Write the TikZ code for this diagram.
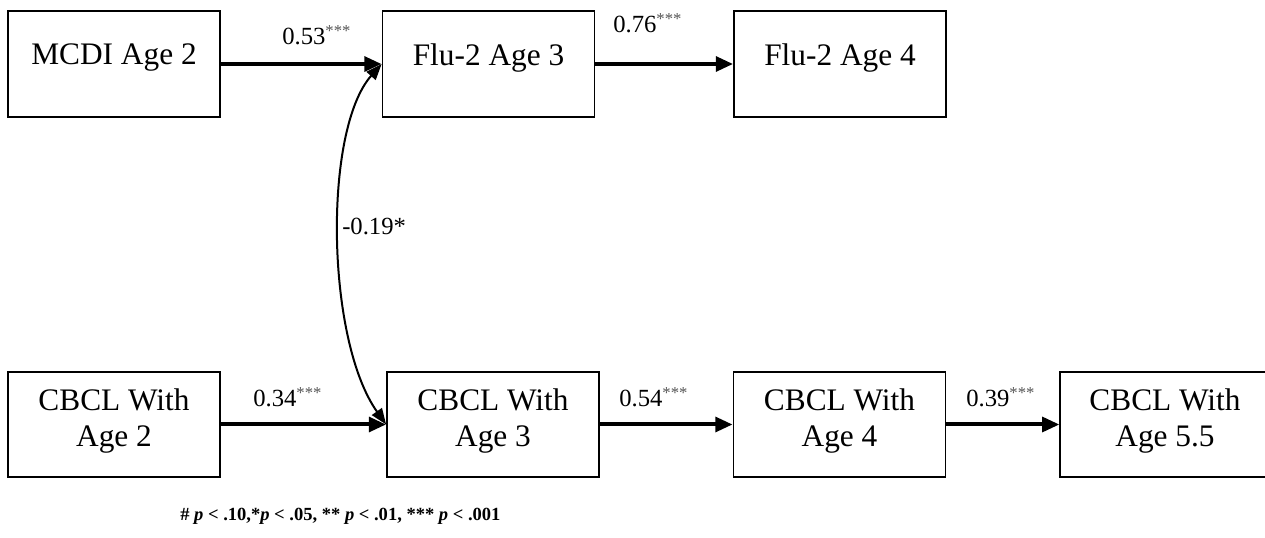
\documentclass[tikz,border=0pt]{standalone}
\usepackage{fontspec}
\setmainfont{Liberation Serif}
\usetikzlibrary{arrows.meta}
\definecolor{stargray}{HTML}{555555}
\newcommand{\sig}[1]{\textsuperscript{\color{stargray}\fontsize{12.5pt}{12.5pt}\selectfont #1}}
\begin{document}
\begin{tikzpicture}[x=0.75pt,y=-0.75pt,
  varbox/.style={draw, line width=1.3pt, minimum width=159pt, minimum height=79pt, inner sep=0pt},
  boxtext/.style={font=\fontsize{23.5pt}{27pt}\selectfont, align=center},
  path/.style={line width=3pt, -{Triangle[length=13pt,width=11pt]}},
  corr/.style={line width=1.5pt, {Triangle[length=12pt,width=9pt]}-{Triangle[length=12pt,width=9pt]}},
  coef/.style={font=\fontsize{18.5pt}{20pt}\selectfont, inner sep=0pt, anchor=base west}]
\useasboundingbox (0,0) rectangle (1265,538);
% boxes
\node[varbox] (mcdi) at (114,64) {};
\node[varbox] (flu3) at (488.5,64) {};
\node[varbox] (flu4) at (840,64) {};
\node[varbox, minimum height=78.5pt] (cb2) at (114,424.5) {};
\node[varbox, minimum height=78.5pt] (cb3) at (493,424.5) {};
\node[varbox, minimum height=78.5pt] (cb4) at (839.5,424.5) {};
\node[varbox, minimum height=78.5pt, minimum width=157pt] (cb55) at (1165,424.5) {};
% texts
\node[boxtext] (t1) at (114,58) {MCDI Age 2};
\node[boxtext] (t2) at (488.5,58) {Flu-2 Age 3};
\node[boxtext] (t3) at (840,58) {Flu-2 Age 4};
\node[boxtext] (t4) at (114,421) {CBCL With\\Age 2};
\node[boxtext] (t5) at (493,421) {CBCL With\\Age 3};
\node[boxtext] (t6) at (839.5,421) {CBCL With\\Age 4};
\node[boxtext] (t7) at (1165,421) {CBCL With\\Age 5.5};
% paths
\draw[path] (mcdi.east) -- (flu3.west);
\draw[path] (flu3.east) -- (flu4.west);
\draw[path] (cb2.east) -- (cb3.west);
\draw[path] (cb3.east) -- (cb4.west);
\draw[path] (cb4.east) -- (cb55.west);
\draw[corr] (cb3.west) .. controls (326,340) and (323,130) .. (flu3.west);
% coefficients
\node[coef] (c1) at (282,45) {0.53\sig{***}};
\node[coef] (c2) at (613,33) {0.76\sig{***}};
\node[coef] (c3) at (342,235) {-0.19*};
\node[coef] (c4) at (253,407) {0.34\sig{***}};
\node[coef] (c5) at (619,407) {0.54\sig{***}};
\node[coef] (c6) at (966,407) {0.39\sig{***}};
% footnote
\node[font=\bfseries\fontsize{13.9pt}{15pt}\selectfont, anchor=base west, inner sep=0pt] (note) at (180,521)
  {\# \textit{p} < .10,*\textit{p} < .05, ** \textit{p} < .01, *** \textit{p} < .001};
\end{tikzpicture}
\end{document}
